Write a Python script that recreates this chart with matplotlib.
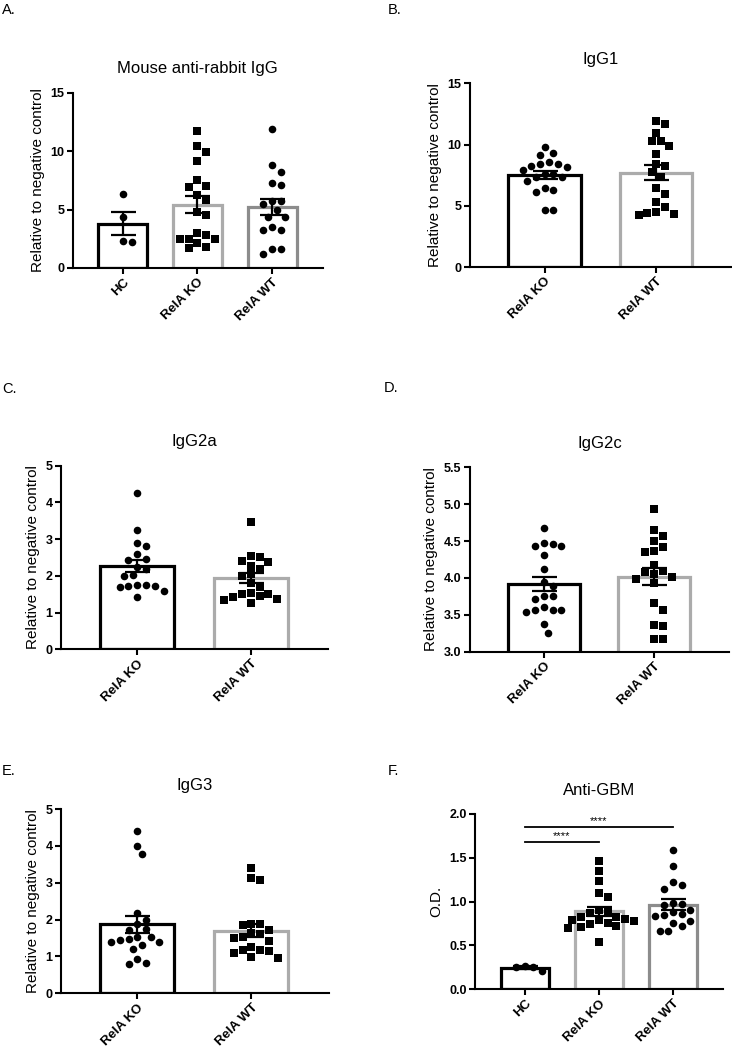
#!/usr/bin/env python3
# -*- coding:utf-8 -*-
# IgG subclass / anti-GBM panels, Prism style bar + scatter

import numpy as np
import matplotlib
matplotlib.use('Agg')
import matplotlib.pyplot as plt

plt.rcParams['font.family'] = ['Liberation Sans', 'DejaVu Sans']

# ---- data ----
a_groups = ['HC', 'RelA KO', 'RelA WT']
a_hc = [6.3, 4.35, 2.2, 2.3]
a_ko = [11.7, 10.45, 9.9, 9.15, 7.5, 6.9, 7.05, 6.2, 5.8, 4.55, 4.75, 2.5, 2.1, 2.95, 2.8, 2.5, 2.5, 1.7, 1.8]
a_wt = [11.87, 8.82, 8.2, 7.06, 7.26, 5.69, 5.49, 5.69, 4.98, 4.36, 4.36, 3.27, 3.27, 3.47, 1.65, 1.65, 1.17]

ko_wt = ['RelA KO', 'RelA WT']
b_ko = [9.8, 9.31, 9.15, 8.58, 8.39, 8.39, 8.28, 8.14, 7.9, 7.62, 7.6, 7.38, 7.38, 7.02, 6.29, 6.15, 6.43, 4.66, 4.66]
b_wt = [11.9, 11.7, 10.97, 10.32, 10.26, 9.88, 9.2, 8.39, 8.28, 7.73, 7.35, 6.43, 5.96, 5.28, 4.87, 4.44, 4.25, 4.36, 4.49]

c_ko = [4.25, 3.25, 2.81, 2.89, 2.43, 2.59, 2.47, 2.18, 2.25, 2.0, 2.02, 1.73, 1.71, 1.75, 1.75, 1.73, 1.43, 1.6]
c_wt = [3.48, 2.54, 2.41, 2.39, 2.52, 2.28, 2.18, 2.04, 2.0, 1.8, 1.71, 1.51, 1.46, 1.37, 1.25, 1.34, 1.42, 1.51, 1.54]

d_ko = [4.68, 4.46, 4.44, 4.48, 4.44, 4.31, 4.12, 3.94, 3.89, 3.75, 3.71, 3.75, 3.57, 3.54, 3.56, 3.57, 3.61, 3.37, 3.26]
d_wt = [4.93, 4.57, 4.65, 4.5, 4.42, 4.35, 4.37, 4.18, 4.08, 4.09, 4.05, 3.98, 4.01, 3.93, 3.57, 3.66, 3.36, 3.35, 3.17, 3.17]

e_ko = [4.41, 4.01, 3.78, 2.19, 1.99, 1.87, 1.72, 1.74, 1.48, 1.52, 1.52, 1.4, 1.4, 1.45, 1.31, 1.19, 0.94, 0.8, 0.81]
e_wt = [3.39, 3.12, 3.07, 1.87, 1.84, 1.87, 1.72, 1.6, 1.49, 1.43, 1.52, 1.63, 1.25, 1.18, 1.08, 0.97, 0.99, 1.16, 1.18]

f_groups = ['HC', 'RelA KO', 'RelA WT']
f_hc = [0.26, 0.21, 0.25, 0.27]
f_ko = [1.46, 1.35, 1.24, 1.10, 1.05, 0.90, 0.87, 0.88, 0.82, 0.83, 0.79, 0.79, 0.78, 0.76, 0.74, 0.72, 0.71, 0.70, 0.80, 0.54]
f_wt = [1.59, 1.41, 1.19, 1.22, 1.14, 0.99, 0.97, 0.96, 0.9, 0.88, 0.86, 0.85, 0.84, 0.78, 0.72, 0.76, 0.66, 0.66]
f_sig_pairs = [(0, 1), (0, 2)]
f_sig_y = [1.68, 1.85]
f_sig_text = ['****', '****']

FIG_W, FIG_H = 732, 1050


def swarm(vals, ppx, ppy, d=8.8):
    # simple beeswarm: place each point as close to centre as it fits
    vals = np.asarray(vals, float)
    offs = np.zeros(len(vals))
    placed = []
    step = d / 2.0
    cands = [0.0]
    for k in range(1, 30):
        cands += [k * step, -k * step]
    for i in np.argsort(-vals):
        y = vals[i] * ppy
        for c in cands:
            if all((c - px) ** 2 + (y - py) ** 2 >= d ** 2 for px, py in placed):
                break
        placed.append((c, y))
        offs[i] = c / ppx
    return offs


def panel(fig, rect, letter, title, groups, data, markers, colors, ylim, yticks, ylabel,
          fmt='%g', letter_xy=None):
    ax = fig.add_axes(rect)
    n = len(groups)
    x = np.arange(n)
    xlim = (-0.67, n - 1 + 0.68)
    ax.set_xlim(xlim)
    ax.set_ylim(ylim)
    ppx = rect[2] * FIG_W / (xlim[1] - xlim[0])
    ppy = rect[3] * FIG_H / (ylim[1] - ylim[0])

    means = [np.mean(v) for v in data]
    sems = [np.std(v, ddof=1) / np.sqrt(len(v)) for v in data]

    ax.bar(x, means, width=0.65, facecolor='white', edgecolor=colors, linewidth=2.3, zorder=1)
    for i, v in enumerate(data):
        xs = x[i] + swarm(v, ppx, ppy)
        ax.scatter(xs, v, s=30 if markers[i] == 'o' else 26, marker=markers[i], color='black',
                   linewidths=0, zorder=2, clip_on=False)
    ax.errorbar(x, means, yerr=sems, fmt='none', ecolor='black', elinewidth=1.6,
                capsize=9, capthick=1.6, zorder=3)

    for s in ['top', 'right']:
        ax.spines[s].set_visible(False)
    for s in ['left', 'bottom']:
        ax.spines[s].set_linewidth(1.5)
    ax.set_yticks(yticks)
    ax.set_yticklabels([fmt % t for t in yticks], fontsize=9, fontweight='bold')
    ax.set_xticks(x)
    ax.set_xticklabels(groups, fontsize=9.5, fontweight='bold', rotation=45,
                       ha='right', rotation_mode='anchor')
    ax.tick_params(axis='both', width=1.5, length=4, pad=2)
    ax.set_ylabel(ylabel, fontsize=11)
    ax.set_title(title, fontsize=12, pad=14)
    fig.text(letter_xy[0] / FIG_W, 1 - letter_xy[1] / FIG_H, letter, fontsize=10.5,
             va='top', ha='left')
    return ax


def init():
    fig = plt.figure(figsize=(FIG_W / 100, FIG_H / 100), dpi=100)
    ylab = 'Relative to negative control'

    panel(fig, [0.0993, 0.7448, 0.342, 0.167], 'A.', 'Mouse anti-rabbit IgG', a_groups,
          [a_hc, a_ko, a_wt], ['o', 's', 'o'], ['black', '#ababab', '#8c8c8c'],
          (0, 15), [0, 5, 10, 15], ylab, letter_xy=(2, 3))
    panel(fig, [0.642, 0.7457, 0.358, 0.175], 'B.', 'IgG1', ko_wt,
          [b_ko, b_wt], ['o', 's'], ['black', '#ababab'],
          (0, 15), [0, 5, 10, 15], ylab, letter_xy=(388, 3))
    panel(fig, [0.0833, 0.3816, 0.365, 0.1749], 'C.', 'IgG2a', ko_wt,
          [c_ko, c_wt], ['o', 's'], ['black', '#ababab'],
          (0, 5), [0, 1, 2, 3, 4, 5], ylab, letter_xy=(2, 382))
    panel(fig, [0.642, 0.3793, 0.354, 0.1756], 'D.', 'IgG2c', ko_wt,
          [d_ko, d_wt], ['o', 's'], ['black', '#ababab'],
          (3.0, 5.5), [3.0, 3.5, 4.0, 4.5, 5.0, 5.5], ylab, fmt='%.1f', letter_xy=(384, 381))
    panel(fig, [0.0833, 0.054, 0.366, 0.1755], 'E.', 'IgG3', ko_wt,
          [e_ko, e_wt], ['o', 's'], ['black', '#ababab'],
          (0, 5), [0, 1, 2, 3, 4, 5], ylab, letter_xy=(2, 764))
    ax = panel(fig, [0.649, 0.0578, 0.339, 0.167], 'F.', 'Anti-GBM', f_groups,
               [f_hc, f_ko, f_wt], ['o', 's', 'o'], ['black', '#b0b0b0', '#8c8c8c'],
               (0, 2.0), [0.0, 0.5, 1.0, 1.5, 2.0], 'O.D.', fmt='%.1f', letter_xy=(388, 764))
    for (i, j), y, t in zip(f_sig_pairs, f_sig_y, f_sig_text):
        ax.plot([i, j], [y, y], color='black', linewidth=1.3)
        ax.text((i + j) / 2, y + 0.015, t, ha='center', va='bottom', fontsize=8)

    plt.savefig('out.png', dpi=100)


if __name__ == '__main__':
    init()
